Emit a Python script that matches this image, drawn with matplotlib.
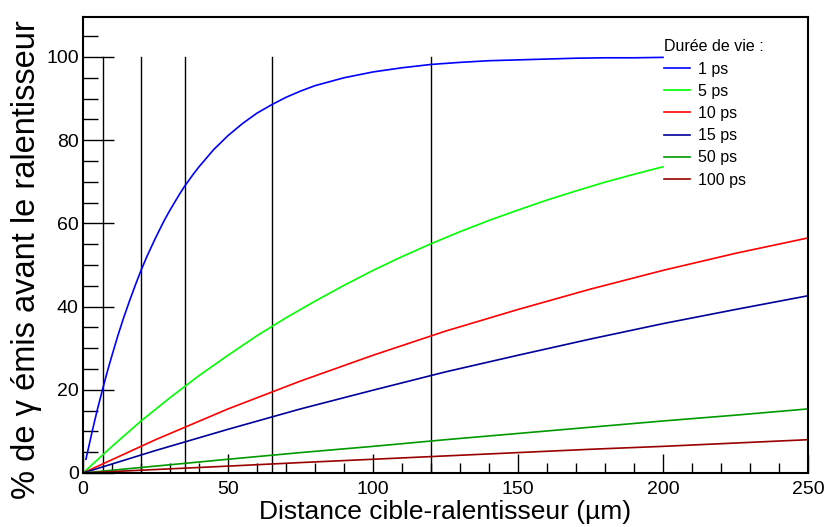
import numpy as np
import matplotlib
matplotlib.use("Agg")
import matplotlib.pyplot as plt
from matplotlib.ticker import MultipleLocator

# ==============================================================================
# données (% de gamma émis avant le ralentisseur)
# ==============================================================================
x_1ps = [1, 2, 3, 4, 5, 6, 7, 8, 9, 10, 12, 14, 16, 18, 20, 22, 25, 28, 30,
         33, 35, 38, 40, 45, 50, 55, 60, 65, 70, 75, 80, 90, 100, 110, 120,
         130, 140, 150, 160, 170, 180, 190, 200]
y_1ps = [3.3, 6.4, 9.5, 12.5, 15.4, 18.1, 20.8, 23.4, 25.9, 28.3, 33.0, 37.3,
         41.3, 45.1, 48.7, 52.0, 56.5, 60.7, 63.2, 66.7, 68.9, 71.8, 73.6,
         77.7, 81.1, 84.0, 86.5, 88.5, 90.3, 91.8, 93.1, 95.0, 96.4, 97.4,
         98.2, 98.7, 99.1, 99.3, 99.5, 99.7, 99.8, 99.8, 99.9]

x_5ps = [0, 10, 20, 30, 40, 50, 60, 70, 80, 90, 100, 110, 120, 130, 140, 150,
         160, 170, 180, 190, 200]
y_5ps = [0, 6.4, 12.5, 18.1, 23.4, 28.3, 33.0, 37.3, 41.3, 45.1, 48.7, 52.0,
         55.1, 58.0, 60.7, 63.2, 65.6, 67.8, 69.9, 71.8, 73.6]

x_long = [0, 25, 50, 75, 100, 125, 150, 175, 200, 225, 250]
y_10ps = [0, 8.0, 15.4, 22.1, 28.3, 34.1, 39.3, 44.2, 48.7, 52.8, 56.5]
y_15ps = [0, 5.4, 10.5, 15.4, 19.9, 24.3, 28.3, 32.2, 35.9, 39.3, 42.6]
y_50ps = [0, 1.65, 3.3, 4.9, 6.4, 8.0, 9.5, 11.0, 12.5, 13.9, 15.4]
y_100ps = [0, 0.83, 1.65, 2.5, 3.3, 4.1, 4.9, 5.7, 6.4, 7.2, 8.0]

# positions des cibles (lignes verticales)
distances = [7, 20, 35, 65, 120]

labels = ["1 ps", "5 ps", "10 ps", "15 ps", "50 ps", "100 ps"]
colors = ["#0000ff", "#00ff00", "#ff0000", "#000099", "#009900", "#990000"]

plt.rcParams["font.family"] = ["Liberation Sans", "DejaVu Sans"]

fig = plt.figure(figsize=(8.27, 5.27), dpi=100)
ax = fig.add_axes([0.1004, 0.1025, 0.8766, 0.8652])

series = [(x_1ps, y_1ps), (x_5ps, y_5ps), (x_long, y_10ps),
          (x_long, y_15ps), (x_long, y_50ps), (x_long, y_100ps)]
for (xs, ys), lab, c in zip(series, labels, colors):
    ax.plot(xs, ys, color=c, lw=1.2, label=lab)

for d in distances:
    ax.plot([d, d], [0, 100], color="black", lw=1.0, zorder=1)

ax.set_xlim(0, 250)
ax.set_ylim(0, 109.6)

ax.xaxis.set_major_locator(MultipleLocator(50))
ax.xaxis.set_minor_locator(MultipleLocator(10))
ax.yaxis.set_major_locator(MultipleLocator(20))
ax.yaxis.set_minor_locator(MultipleLocator(5))
ax.tick_params(axis="both", which="both", direction="in", top=False, right=False,
               labelsize=14, width=1.0)
ax.tick_params(axis="x", which="major", length=14, pad=6)
ax.tick_params(axis="x", which="minor", length=7)
ax.tick_params(axis="y", which="major", length=22, pad=3)
ax.tick_params(axis="y", which="minor", length=11)
for s in ax.spines.values():
    s.set_linewidth(1.5)

ax.set_xlabel("Distance cible-ralentisseur (µm)", fontsize=19, labelpad=1)
ax.set_ylabel("% de γ émis avant le ralentisseur", fontsize=23.5, labelpad=3)
ax.yaxis.label.set_y(0.467)

leg = ax.legend(loc="upper left", bbox_to_anchor=(658 / 827, 1 - 33 / 527),
                bbox_transform=fig.transFigure, frameon=False, fontsize=11.5,
                title="Durée de vie :", title_fontsize=11.5, alignment="left",
                handlelength=1.6, handletextpad=0.5, labelspacing=0.45,
                borderaxespad=0)

fig.savefig("out.png", dpi=100)
